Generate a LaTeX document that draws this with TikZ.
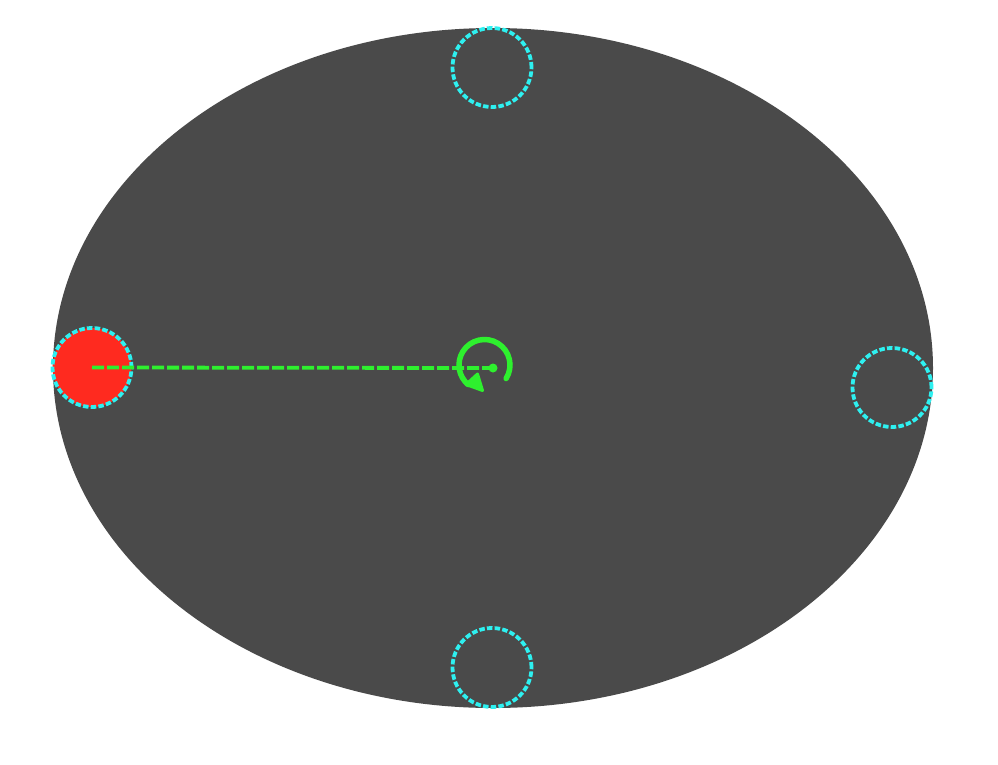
\documentclass[tikz,border=0pt]{standalone}
\usetikzlibrary{arrows.meta,shapes.geometric,calc}
\definecolor{bg}{HTML}{4A4A4A}
\definecolor{cy}{HTML}{2EF0F0}
\definecolor{gr}{HTML}{2EF02E}
\definecolor{rd}{HTML}{FF2A1F}
\begin{document}
\begin{tikzpicture}[x=1pt,y=-1pt,
  hole/.style={circle,draw=cy,line width=3.8pt,dash pattern=on 5.5pt off 2.2pt,minimum size=79pt,inner sep=0pt},
  dot/.style={circle,fill=gr,inner sep=0pt,minimum size=9pt}]
\useasboundingbox (0,0) rectangle (998,764);
\node[ellipse,fill=bg,minimum width=880pt,minimum height=680pt,inner sep=0pt] (E) at (493,368) {};
\node[hole] (T) at (492,67.5) {};
\node[hole] (B) at (492,667.5) {};
\node[hole] (R) at (892,387.5) {};
\node[hole,fill=rd] (L) at (92,367.5) {};
\node[dot] (C) at (493,368) {};
\draw[gr,line width=3.8pt,dash pattern=on 12pt off 3pt] (L.center) -- (C.center);
\coordinate (O) at (484.5,365);
\coordinate (A) at ($(O)+(32:25.5)$);
\draw[gr,line width=5.5pt,line cap=round] (A) arc[start angle=32,end angle=-230,radius=25.5];
\coordinate (H1) at (466,384.5);
\coordinate (H2) at (477.5,374);
\coordinate (HT) at (482.5,390.5);
\filldraw[gr,line width=3pt,line join=round] (H1) -- (H2) -- (HT) -- cycle;
\end{tikzpicture}
\end{document}
